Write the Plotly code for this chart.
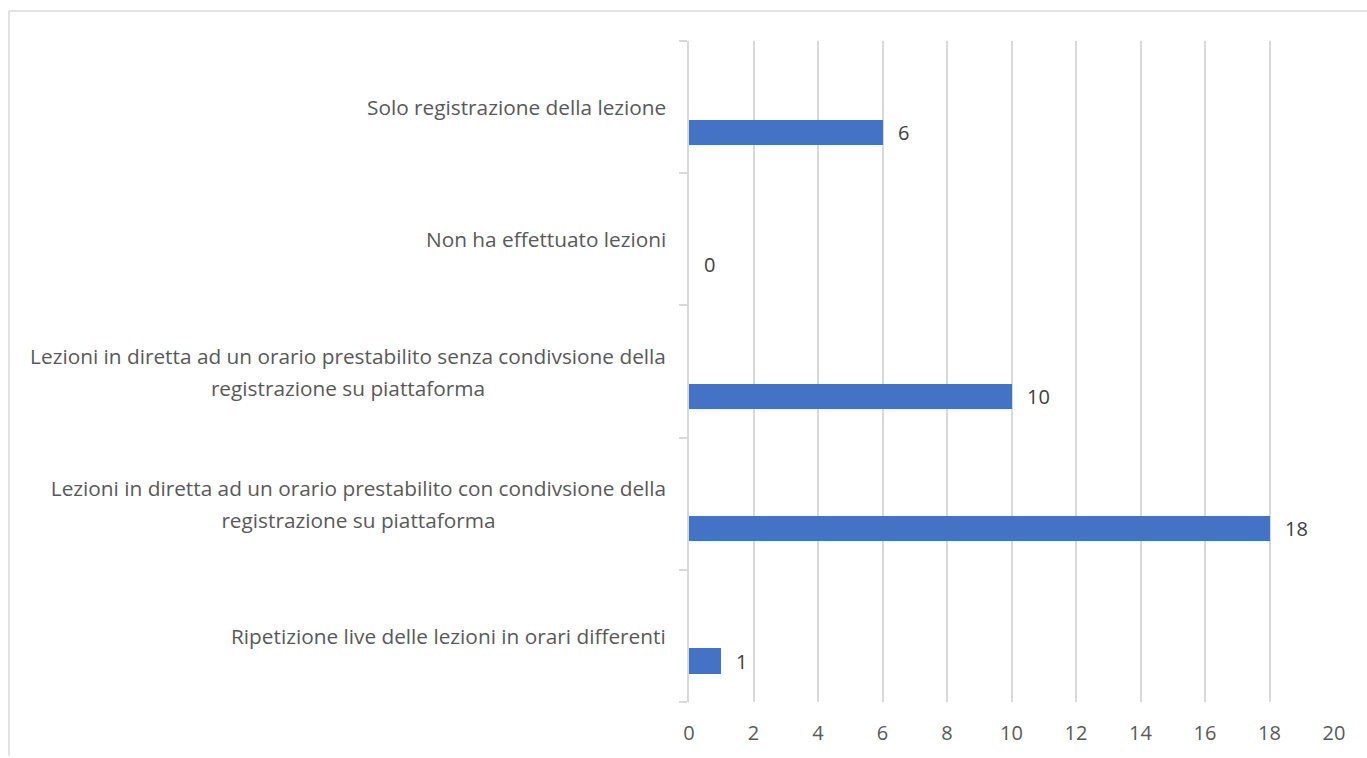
import plotly.graph_objects as go

# Categories listed bottom-to-top, as the y axis stacks them
categories = [
    "Ripetizione live delle lezioni in orari differenti",
    "Lezioni in diretta ad un orario prestabilito con condivsione della<br>registrazione su piattaforma",
    "Lezioni in diretta ad un orario prestabilito senza condivsione della<br>registrazione su piattaforma",
    "Non ha effettuato lezioni",
    "Solo registrazione della lezione",
]
values = [1, 18, 10, 0, 6]
x_ticks = list(range(0, 21, 2))

W, H = 1367, 758
L, R, T, B = 689, 33, 41, 54
plot_h = H - T - B
band_px = plot_h / len(categories)

BAR_OFFSET = -0.285
BAR_WIDTH = 0.19
LINE_PX = 32           # spacing between lines of a wrapped label
LABEL_GAP = 21         # gap between label block and the y axis
FONT = "Open Sans"
LABEL_SIZE = 20.8
# rendered width (px) of the widest line of each wrapped label, so every
# line can be centred inside a box of that width
WRAP_BOX = {1: 615, 2: 636}

fig = go.Figure()
fig.add_trace(go.Bar(
    x=values,
    y=list(range(len(categories))),
    orientation="h",
    marker=dict(color="#4472C4", line=dict(width=0)),
    offset=BAR_OFFSET,
    width=BAR_WIDTH,
    hoverinfo="skip",
))

annotations = []
# Category labels: block right-aligned next to the axis, lines centred
for i, cat in enumerate(categories):
    lines = cat.split("<br>")
    n = len(lines)
    for k, line in enumerate(lines):
        ann = dict(
            x=0, xref="paper", y=i, yref="y",
            text=line, showarrow=False,
            xanchor="right", yanchor="middle", align="center",
            xshift=-LABEL_GAP,
            yshift=((n - 1) / 2 - k) * LINE_PX,
            font=dict(family=FONT, size=LABEL_SIZE, color="#595959"),
        )
        if n > 1:
            ann["width"] = WRAP_BOX[i]
        annotations.append(ann)

# Value labels just past the end of each bar
bar_mid = BAR_OFFSET + BAR_WIDTH / 2
for i, v in enumerate(values):
    annotations.append(dict(
        x=v, xref="x", y=i, yref="y",
        text=str(v), showarrow=False,
        xanchor="left", yanchor="middle",
        xshift=13, yshift=bar_mid * band_px,
        font=dict(family=FONT, size=20, color="#404040"),
    ))

fig.update_layout(
    width=W, height=H,
    margin=dict(l=L, r=R, t=T, b=B),
    paper_bgcolor="white",
    plot_bgcolor="white",
    showlegend=False,
    bargap=0,
    annotations=annotations,
    font=dict(family=FONT, size=20, color="#595959"),
    xaxis=dict(
        range=[0, 20],
        tickvals=x_ticks,
        showgrid=True, gridcolor="#d9d9d9", gridwidth=1.5,
        zeroline=False, showline=False,
        ticks="", ticklen=0,
        ticklabelstandoff=17,
        tickfont=dict(family=FONT, size=20, color="#595959"),
        fixedrange=True,
    ),
    yaxis=dict(
        type="linear",
        range=[-0.5, len(categories) - 0.5],
        showgrid=False, zeroline=False,
        showline=True, linecolor="#d9d9d9", linewidth=1.5,
        tickvals=[i - 0.5 for i in range(len(categories) + 1)],
        ticks="outside", ticklen=8, tickcolor="#d9d9d9", tickwidth=1.5,
        showticklabels=False,
        fixedrange=True,
    ),
    shapes=[
        # chart frame (top and left edges visible)
        dict(type="line", xref="paper", yref="paper",
             x0=(9 - L) / (W - L - R), x1=(W - L) / (W - L - R),
             y0=(H - 11 - B) / plot_h, y1=(H - 11 - B) / plot_h,
             line=dict(color="#d9d9d9", width=1.5)),
        dict(type="line", xref="paper", yref="paper",
             x0=(9 - L) / (W - L - R), x1=(9 - L) / (W - L - R),
             y0=(H - 11 - B) / plot_h, y1=-B / plot_h,
             line=dict(color="#d9d9d9", width=1.5)),
    ],
)

fig.write_html("out.html", config={"displayModeBar": False})
